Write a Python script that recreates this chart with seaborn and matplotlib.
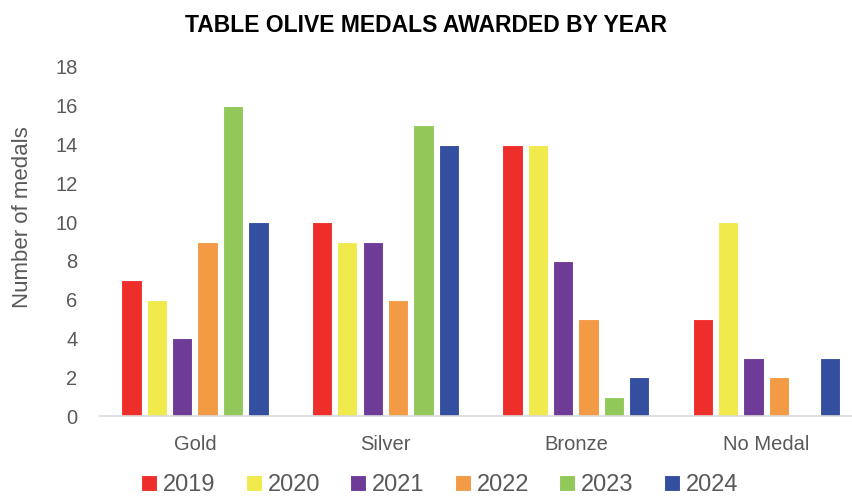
import matplotlib
matplotlib.use("Agg")
import matplotlib.pyplot as plt
import pandas as pd
import seaborn as sns

# ------------------------------------------------------------------------
#  Data
# ------------------------------------------------------------------------
categories = ["Gold", "Silver", "Bronze", "No Medal"]
years = ["2019", "2020", "2021", "2022", "2023", "2024"]
medals_2019 = [7, 10, 14, 5]
medals_2020 = [6, 9, 14, 10]
medals_2021 = [4, 9, 8, 3]
medals_2022 = [9, 6, 5, 2]
medals_2023 = [16, 15, 1, 0]
medals_2024 = [10, 14, 2, 3]
year_colors = ["#EE2E2A", "#F0EA4C", "#6E3B96", "#F39A45", "#92C85A", "#344EA0"]

series = [medals_2019, medals_2020, medals_2021, medals_2022, medals_2023, medals_2024]
rows = []
for year, vals in zip(years, series):
    for cat, v in zip(categories, vals):
        rows.append({"Category": cat, "Year": year, "Medals": v})
df = pd.DataFrame(rows)

sns.set_style("white")
plt.rcParams["font.family"] = ["Liberation Sans", "DejaVu Sans"]

GREY = "#595959"

fig = plt.figure(figsize=(8.52, 5), dpi=100)
ax = fig.add_axes([0.117, 0.168, 0.883, 0.698])

sns.barplot(data=df, x="Category", y="Medals", hue="Year", order=categories,
            hue_order=years, palette=year_colors, saturation=1, width=0.8, gap=0.2,
            edgecolor="white", linewidth=0.8, ax=ax)

ax.set_ylim(0, 18)
ax.set_yticks(range(0, 19, 2))
ax.set_xlim(-0.5, 3.45)
ax.set_xlabel("")
ax.set_ylabel("Number of medals", fontsize=16, color=GREY)
ax.yaxis.set_label_coords(-0.089, 0.57)
ax.tick_params(axis="both", labelsize=14.5, colors=GREY, length=0)
ax.tick_params(axis="x", pad=14)
ax.tick_params(axis="y", pad=16)

for s in ["top", "right", "left"]:
    ax.spines[s].set_visible(False)
ax.spines["bottom"].set_color("#D9D9D9")
ax.spines["bottom"].set_linewidth(1.2)

fig.text(0.5, 0.948, "TABLE OLIVE MEDALS AWARDED BY YEAR", ha="center", va="center",
         fontsize=16.5, fontweight="bold", color="black")

leg = ax.legend(loc="center", bbox_to_anchor=(0.452, -0.198),
                ncol=6, frameon=False, fontsize=17, handlelength=0.68,
                handleheight=0.68, handletextpad=0.25, columnspacing=1.27,
                borderpad=0, borderaxespad=0)
for t in leg.get_texts():
    t.set_color(GREY)

fig.savefig("out.png", dpi=100)
plt.close(fig)
